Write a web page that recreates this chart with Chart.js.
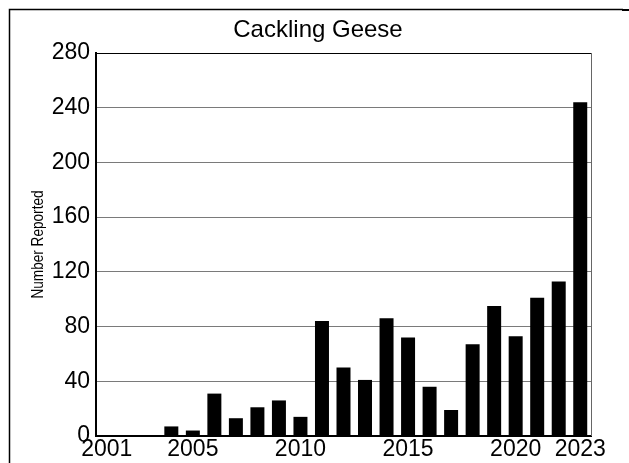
<!DOCTYPE html>
<html>
<head>
<meta charset="utf-8">
<script src="https://cdn.jsdelivr.net/npm/chart.js@4"></script>
<style>
  html, body { margin: 0; padding: 0; background: #fff; }
  #wrap { position: relative; width: 629px; height: 463px; }
</style>
</head>
<body>
<div id="wrap"><canvas id="chart"></canvas></div>
<script>
const years = ["2001","2002","2003","2004","2005","2006","2007","2008","2009","2010","2011","2012",
  "2013","2014","2015","2016","2017","2018","2019","2020","2021","2022","2023"];
const reported = [0, 0, 0, 7, 4, 31, 13, 21, 26, 14, 84, 50, 41, 86, 72, 36, 19, 67, 95, 73, 101, 113, 244];
const shownYears = ["2001", "2005", "2010", "2015", "2020", "2023"];
const chartTitle = "Cackling Geese";
const yTitle = "Number Reported";

const FONT = "'Liberation Sans', Arial, sans-serif";

// title, y axis title and the outer frame
const framePlugin = {
  id: "frame",
  afterDraw: (chart) => {
    const { ctx, chartArea: { top, right, bottom, left } } = chart;
    ctx.save();

    // outer frame (left + top)
    ctx.strokeStyle = "#000";
    ctx.lineWidth = 1.5;
    ctx.beginPath();
    ctx.moveTo(9.5, 463);
    ctx.lineTo(9.5, 9.5);
    ctx.lineTo(623, 9.5);
    ctx.stroke();
    ctx.lineWidth = 2;
    ctx.beginPath();
    ctx.moveTo(622, 10);
    ctx.lineTo(629, 10);
    ctx.stroke();

    // top and right side of plot box
    ctx.lineWidth = 1;
    ctx.strokeStyle = "#000";
    ctx.beginPath();
    ctx.moveTo(left, top + 0.5);
    ctx.lineTo(right, top + 0.5);
    ctx.stroke();
    ctx.strokeStyle = "#666";
    ctx.beginPath();
    ctx.moveTo(right + 0.5, top);
    ctx.lineTo(right + 0.5, bottom);
    ctx.stroke();

    // chart title
    ctx.fillStyle = "#000";
    ctx.font = "24px " + FONT;
    ctx.textAlign = "center";
    ctx.textBaseline = "middle";
    ctx.fillText(chartTitle, 318, 30);

    // y axis title, squeezed to look like a narrow face
    ctx.translate(38, (top + bottom) / 2);
    ctx.rotate(-Math.PI / 2);
    ctx.scale(0.8, 1);
    ctx.font = "17px " + FONT;
    ctx.fillText(yTitle, 0, 0);
    ctx.restore();
  }
};

new Chart(document.getElementById("chart"), {
  type: "bar",
  data: {
    labels: years,
    datasets: [{
      label: yTitle,
      data: reported,
      backgroundColor: "#000",
      borderWidth: 0,
      barPercentage: 0.65,
      categoryPercentage: 1.0
    }]
  },
  options: {
    animation: false,
    responsive: true,
    maintainAspectRatio: false,
    layout: {
      padding: { left: 0, top: 53, right: 38, bottom: 0 }
    },
    scales: {
      x: {
        afterFit: (scale) => { scale.height = 27; },
        grid: { display: false, drawTicks: false },
        border: { color: "#000", width: 2 },
        ticks: {
          autoSkip: false,
          maxRotation: 0,
          padding: 0,
          color: "#000",
          font: { family: FONT, size: 23 },
          callback: function (value) {
            const lab = this.getLabelForValue(value);
            return shownYears.includes(lab) ? lab : "";
          }
        }
      },
      y: {
        min: 0,
        max: 280,
        afterFit: (scale) => { scale.width = 96; },
        grid: { color: "#7a7a7a", lineWidth: 1, drawTicks: false },
        border: { color: "#000", width: 2 },
        ticks: {
          stepSize: 40,
          padding: 6,
          color: "#000",
          font: { family: FONT, size: 23 }
        }
      }
    },
    plugins: {
      legend: { display: false },
      title: { display: false },
      tooltip: { enabled: false }
    }
  },
  plugins: [framePlugin]
});
</script>
</body>
</html>
